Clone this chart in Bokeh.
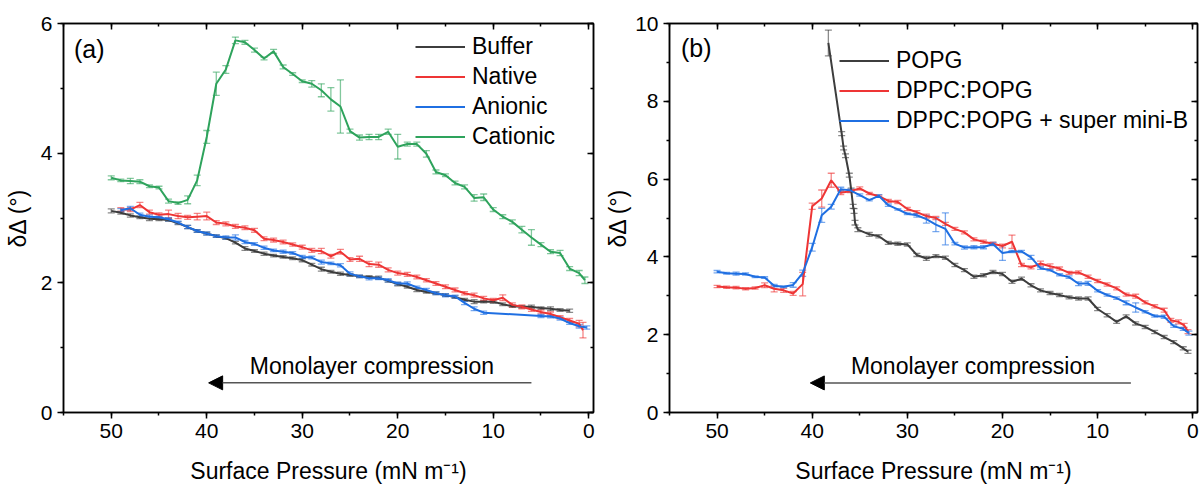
import numpy as np
from bokeh.plotting import figure
from bokeh.models import (Range1d, SingleIntervalTicker, LinearAxis, ColumnDataSource,
                          Whisker, TeeHead, Legend, LegendItem, Label, Arrow, NormalHead)
from bokeh.layouts import row
from bokeh.embed import file_html
from bokeh.resources import INLINE

FONT = "Liberation Sans"

# ---------------- panel (a) data ----------------
buffer_x = [50, 49, 48, 47, 46, 45, 44, 43, 42, 41, 40, 39, 38, 37, 36, 35, 34, 33, 32, 31, 30,
            29, 28, 27, 26, 25, 24, 23, 22, 21, 20, 19, 18, 17, 16, 15, 14, 13, 12, 11, 10,
            9, 8, 7, 6, 5, 4, 3, 2]
buffer_y = [3.11, 3.08, 3.04, 3.01, 2.99, 2.98, 2.97, 2.92, 2.86, 2.80, 2.76, 2.72, 2.69, 2.62,
            2.53, 2.49, 2.45, 2.42, 2.40, 2.38, 2.35, 2.28, 2.21, 2.17, 2.14, 2.12, 2.10, 2.09,
            2.08, 2.03, 1.98, 1.94, 1.89, 1.86, 1.84, 1.81, 1.78, 1.74, 1.71, 1.71, 1.71, 1.67,
            1.64, 1.63, 1.63, 1.61, 1.60, 1.58, 1.57]
buffer_err = [0.03, 0.02, 0.025, 0.02, 0.03, 0.02, 0.02, 0.02, 0.025, 0.02, 0.02, 0.02, 0.02, 0.02,
              0.03, 0.02, 0.025, 0.02, 0.02, 0.02, 0.025, 0.02, 0.03, 0.02, 0.025, 0.02, 0.02, 0.02,
              0.025, 0.02, 0.025, 0.02, 0.025, 0.02, 0.02, 0.02, 0.02, 0.02, 0.03, 0.02, 0.025, 0.02,
              0.02, 0.02, 0.025, 0.02, 0.03, 0.02, 0.025]

native_x = [49, 48, 47, 46, 45, 44, 43, 42, 41, 40, 39, 38, 37, 36, 35, 34, 33, 32, 31, 30,
            29, 28, 27, 26, 25, 24, 23, 22, 21, 20, 19, 18, 17, 16, 15, 14, 13, 12, 11, 10,
            9, 8, 7, 6, 5, 4, 3, 2, 1, 0.6]
native_y = [3.13, 3.13, 3.20, 3.09, 3.05, 3.06, 3.03, 3.01, 3.02, 3.03, 2.93, 2.91, 2.87, 2.85,
            2.81, 2.68, 2.66, 2.63, 2.59, 2.55, 2.50, 2.49, 2.41, 2.48, 2.36, 2.37, 2.29, 2.28,
            2.20, 2.15, 2.13, 2.09, 2.04, 1.99, 1.94, 1.89, 1.84, 1.81, 1.76, 1.73, 1.77, 1.66,
            1.63, 1.59, 1.55, 1.52, 1.47, 1.42, 1.37, 1.27]
native_err = [0.03, 0.03, 0.04, 0.03, 0.03, 0.06, 0.04, 0.03, 0.05, 0.06, 0.03, 0.03, 0.03, 0.03,
              0.03, 0.03, 0.03, 0.03, 0.025, 0.03, 0.03, 0.04, 0.03, 0.035, 0.03, 0.04, 0.04, 0.04,
              0.03, 0.03, 0.03, 0.03, 0.025, 0.03, 0.03, 0.03, 0.025, 0.03, 0.03, 0.03, 0.045, 0.03,
              0.03, 0.03, 0.03, 0.03, 0.025, 0.03, 0.05, 0.12]

anionic_x = [49, 48, 47, 46, 45, 44, 43, 42, 41, 40, 39, 38, 37, 36, 35, 34, 33, 32, 31, 30,
             29, 28, 27, 26, 25, 24, 23, 22, 21, 20, 19, 18, 17, 16, 15, 14, 13, 12, 11,
             5, 4, 3, 2, 1, 0.2]
anionic_y = [3.12, 3.15, 3.05, 3.02, 3.01, 2.98, 2.93, 2.86, 2.80, 2.76, 2.72, 2.70, 2.70, 2.63,
             2.60, 2.54, 2.50, 2.48, 2.46, 2.40, 2.39, 2.32, 2.30, 2.27, 2.14, 2.10, 2.07, 2.07,
             2.04, 1.99, 1.99, 1.93, 1.89, 1.84, 1.81, 1.79, 1.69, 1.60, 1.54,
             1.49, 1.48, 1.45, 1.38, 1.33, 1.31]
anionic_err = [0.025, 0.03, 0.025, 0.025, 0.02, 0.025, 0.02, 0.025, 0.02, 0.025, 0.02, 0.025, 0.04,
               0.025, 0.02, 0.025, 0.02, 0.025, 0.02, 0.025, 0.02, 0.03, 0.02, 0.025, 0.03, 0.02,
               0.025, 0.02, 0.025, 0.02, 0.025, 0.02, 0.025, 0.02, 0.025, 0.02, 0.025, 0.03, 0.025,
               0.025, 0.02, 0.025, 0.02, 0.03, 0.025]

cationic_x = [50, 49, 48, 47, 46, 45, 44, 43, 42, 41, 40, 39, 38, 37, 36, 35, 34, 33, 32, 31, 30,
              29, 28, 27, 26, 25, 24, 23, 22, 21, 20, 19, 18, 17, 16, 15, 14, 13, 12, 11, 10,
              9, 8, 7, 6, 5, 4, 3, 2, 1, 0.4]
cationic_y = [3.62, 3.58, 3.57, 3.56, 3.49, 3.47, 3.26, 3.23, 3.28, 3.58, 4.25, 5.07, 5.29, 5.74,
              5.71, 5.59, 5.46, 5.57, 5.33, 5.22, 5.11, 5.07, 4.97, 4.83, 4.72, 4.34, 4.24, 4.25,
              4.25, 4.33, 4.10, 4.14, 4.14, 3.99, 3.71, 3.66, 3.54, 3.48, 3.31, 3.32, 3.13, 3.02,
              2.94, 2.82, 2.70, 2.59, 2.48, 2.46, 2.22, 2.15, 2.04]
cationic_err = [0.03, 0.02, 0.04, 0.03, 0.02, 0.02, 0.03, 0.02, 0.06, 0.08, 0.10, 0.18, 0.06, 0.05,
                0.03, 0.03, 0.02, 0.03, 0.03, 0.02, 0.02, 0.05, 0.10, 0.18, 0.41, 0.03, 0.04, 0.04,
                0.04, 0.04, 0.19, 0.03, 0.03, 0.05, 0.03, 0.02, 0.03, 0.03, 0.05, 0.05, 0.03, 0.03,
                0.03, 0.05, 0.12, 0.03, 0.03, 0.04, 0.03, 0.04, 0.05]

# ---------------- panel (b) data ----------------
popg_x = [38.3, 36.9, 36.7, 36.5, 36.1, 35.9, 35.7, 35.6, 35.5, 35.2,
          34, 33, 32, 31, 30, 29, 28, 27, 26, 25, 24, 23, 22, 21, 20, 19, 18, 17, 16, 15,
          14, 13, 12, 11, 10, 9, 8, 7, 6, 5, 4, 3, 2, 1, 0.5]
popg_y = [9.50, 7.17, 6.80, 6.60, 6.10, 5.72, 5.30, 5.18, 4.88, 4.70,
          4.58, 4.53, 4.36, 4.34, 4.32, 4.05, 3.96, 4.02, 3.98, 3.79, 3.66, 3.49, 3.53, 3.61,
          3.56, 3.36, 3.44, 3.27, 3.14, 3.07, 3.02, 2.96, 2.93, 2.93, 2.66, 2.50, 2.33, 2.47,
          2.29, 2.20, 2.07, 1.94, 1.81, 1.65, 1.56]
popg_err = [0.33, 0.05, 0.05, 0.05, 0.05, 0.05, 0.05, 0.06, 0.06, 0.05,
            0.05, 0.04, 0.04, 0.04, 0.04, 0.04, 0.05, 0.04, 0.04, 0.04, 0.04, 0.04, 0.04, 0.04,
            0.04, 0.04, 0.04, 0.04, 0.04, 0.04, 0.04, 0.04, 0.04, 0.04, 0.04, 0.04, 0.04, 0.04,
            0.04, 0.04, 0.04, 0.04, 0.04, 0.04, 0.04]

dppc_x = [50, 49, 48, 47, 46, 45, 44, 43, 42, 41, 40, 39, 38, 37, 36, 35, 34, 33, 32, 31, 30,
          29, 28, 27, 26, 25, 24, 23, 22, 21, 20, 19, 18, 17, 16, 15, 14, 13, 12, 11, 10,
          9, 8, 7, 6, 5, 4, 3, 2.3, 1.5, 0.9, 0.5]
dppc_y = [3.24, 3.22, 3.21, 3.18, 3.20, 3.27, 3.18, 3.14, 3.06, 3.30, 5.30, 5.50, 5.97, 5.65,
          5.69, 5.76, 5.63, 5.56, 5.44, 5.41, 5.23, 5.15, 5.05, 5.00, 4.85, 4.72, 4.63, 4.45,
          4.39, 4.34, 4.28, 4.39, 3.79, 3.73, 3.83, 3.76, 3.70, 3.59, 3.60, 3.49, 3.38, 3.29,
          3.19, 3.03, 2.99, 2.83, 2.73, 2.63, 2.37, 2.33, 2.24, 2.08]
dppc_err = [0.03, 0.03, 0.03, 0.03, 0.03, 0.06, 0.08, 0.05, 0.05, 0.30, 0.08, 0.22, 0.18, 0.05,
            0.04, 0.04, 0.03, 0.03, 0.04, 0.04, 0.04, 0.04, 0.05, 0.04, 0.04, 0.04, 0.04, 0.04,
            0.04, 0.04, 0.05, 0.17, 0.04, 0.04, 0.06, 0.06, 0.04, 0.04, 0.04, 0.04, 0.04, 0.04,
            0.04, 0.04, 0.05, 0.04, 0.04, 0.05, 0.05, 0.05, 0.05, 0.05]

# DPPC:POPG + super mini-B curve is the same measurement as "Cationic" in panel (a)
smb_x = cationic_x
smb_y = cationic_y
smb_err = cationic_err

x_ticks_interval = 10
GRAY, RED, BLUE, GREEN = "#3d3d3d", "#ee3535", "#1f6fe2", "#2ea35c"


def make_panel(width, ymax, border_left, border_right, series, legend_xy, tag, arrow_spec,
               ylabel_standoff):
    p = figure(width=width, height=486, x_range=Range1d(55, -0.5), y_range=Range1d(0, ymax),
               output_backend="svg", toolbar_location=None,
               min_border_left=border_left, min_border_right=border_right,
               min_border_top=23, min_border_bottom=74,
               background_fill_color="white", border_fill_color="white")
    p.grid.visible = False
    p.outline_line_color = "black"
    p.outline_line_width = 1.5

    xt = SingleIntervalTicker(interval=x_ticks_interval, num_minor_ticks=2)
    yt = SingleIntervalTicker(interval=2, num_minor_ticks=2)
    p.xaxis.ticker = xt
    p.yaxis.ticker = yt
    for ax in (p.xaxis[0], p.yaxis[0]):
        ax.axis_line_color = "black"
        ax.axis_line_width = 1.5
        ax.major_tick_line_width = 1.5
        ax.minor_tick_line_width = 1.5
        ax.major_tick_out = 6
        ax.major_tick_in = 0
        ax.minor_tick_out = 3
        ax.minor_tick_in = 0
        ax.major_label_text_font = FONT
        ax.major_label_text_font_size = "21px"
        ax.major_label_text_color = "black"
        ax.major_label_standoff = 5
        ax.axis_label_text_font = FONT
        ax.axis_label_text_font_size = "23px"
        ax.axis_label_text_font_style = "normal"
        ax.axis_label_text_color = "black"
    p.xaxis.axis_label = "Surface Pressure (mN m\u207b\u00b9)"
    p.xaxis.axis_label_standoff = 17
    p.yaxis.axis_label = "\u03b4\u0394 (\u00b0)"
    p.yaxis.axis_label_standoff = ylabel_standoff

    # mirrored ticks on top and right
    for side, tk in (("above", xt), ("right", yt)):
        ax = LinearAxis(ticker=tk, axis_line_color="black", axis_line_width=1.5,
                        major_tick_in=6, major_tick_out=0, minor_tick_in=3, minor_tick_out=0,
                        major_tick_line_width=1.5, minor_tick_line_width=1.5,
                        major_label_standoff=0, major_label_text_font_size="1px",
                        major_label_overrides={v: "" for v in range(0, 61, 2)})
        p.add_layout(ax, side)

    items = []
    for name, xs, ys, es, color in series:
        xs_a = np.array(xs, dtype=float)
        ys_a = np.array(ys, dtype=float)
        es_a = np.array(es, dtype=float)
        src = ColumnDataSource(dict(x=xs_a, y=ys_a, upper=ys_a + es_a, lower=ys_a - es_a))
        w = Whisker(source=src, base="x", upper="upper", lower="lower",
                    line_color=color, line_alpha=0.6, line_width=1.3,
                    upper_head=TeeHead(size=7, line_color=color, line_alpha=0.6, line_width=1.3),
                    lower_head=TeeHead(size=7, line_color=color, line_alpha=0.6, line_width=1.3))
        p.add_layout(w)
        r = p.line("x", "y", source=src, line_color=color, line_width=2)
        items.append(LegendItem(label=name, renderers=[r]))

    legend = Legend(items=items, location=legend_xy, margin=0, padding=5, spacing=3,
                    glyph_width=50, glyph_height=25, label_height=25, label_standoff=7,
                    label_text_font=FONT, label_text_font_size="23px", label_text_color="black",
                    border_line_color=None, background_fill_alpha=0)
    p.add_layout(legend)

    tx, ty = tag[1], tag[2]
    p.add_layout(Label(x=tx, y=ty, text=tag[0], text_font=FONT, text_font_size="25px",
                       text_align="left", text_baseline="middle", text_color="black"))

    (ax0, ax1, ay, lx, ly) = arrow_spec
    p.add_layout(Arrow(end=NormalHead(size=14, fill_color="black", line_color="black"),
                       x_start=ax0, y_start=ay, x_end=ax1, y_end=ay,
                       line_color="#555555", line_width=1.5))
    p.add_layout(Label(x=lx, y=ly, text="Monolayer compression", text_font=FONT,
                       text_font_size="23px", text_align="center", text_baseline="alphabetic",
                       text_color="black"))
    return p


p1 = make_panel(600, 6, 63, 7,
                [("Buffer", buffer_x, buffer_y, buffer_err, GRAY),
                 ("Native", native_x, native_y, native_err, RED),
                 ("Anionic", anionic_x, anionic_y, anionic_err, BLUE),
                 ("Cationic", cationic_x, cationic_y, cationic_err, GREEN)],
                (352, 262), ("(a)", 53.9, 5.61), (6.0, 39.8, 0.457, 22.7, 0.715), 7)

p2 = make_panel(601, 10, 69, 4,
                [("POPG", popg_x, popg_y, popg_err, GRAY),
                 ("DPPC:POPG", dppc_x, dppc_y, dppc_err, RED),
                 ("DPPC:POPG + super mini-B", smb_x, smb_y, smb_err, BLUE)],
                (170, 278), ("(b)", 53.8, 9.37), (6.5, 40.2, 0.76, 23.1, 1.19), 1)

layout = row(p1, p2)
open("out.html", "w").write(file_html(layout, INLINE))
